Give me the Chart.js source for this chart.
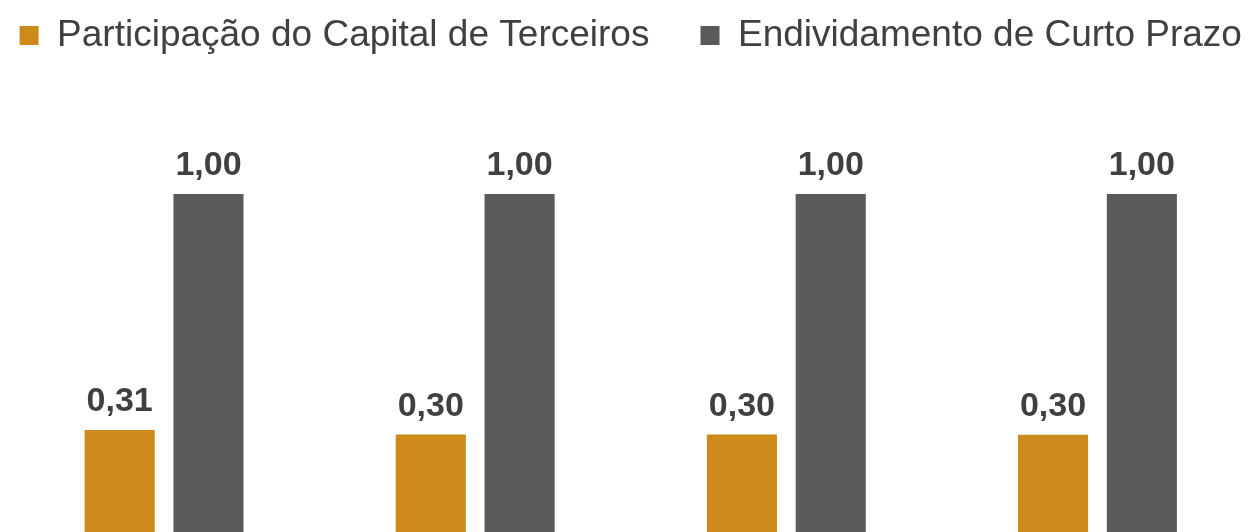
<!DOCTYPE html>
<html>
<head>
<meta charset="utf-8">
<script src="https://cdn.jsdelivr.net/npm/chart.js@4.4.0/dist/chart.umd.min.js"></script>
<style>
  html, body { margin: 0; padding: 0; background: #fff; overflow: hidden; }
  #wrap { width: 1249px; height: 532px; overflow: hidden; }
</style>
</head>
<body>
<div id="wrap"><canvas id="barChart" width="1253" height="532"></canvas></div>
<script>
///////////////////////////////// DONNEES

const categorias = ["2019", "2020", "2021", "2022"];
const participacaoCapital = [0.31, 0.297, 0.297, 0.296];
const endividamentoCurto = [1.00, 1.00, 1.00, 1.00];
// trailing spaces keep the gap between the two legend items
const nomesSeries = ["Participação do Capital de Terceiros    ", "Endividamento de Curto Prazo"];

const corLaranja = "#CC8A1A";
const corCinza = "#5A5A5A";
const corTexto = "#404040";

///////////////////////////////// ETIQUETAS SOBRE AS BARRAS

const etiquetas = {
    id: 'etiquetas',
    afterDatasetsDraw(chart) {
        const ctx = chart.ctx;
        ctx.save();
        ctx.font = "bold 34px 'Liberation Sans', Arial, sans-serif";
        ctx.fillStyle = corTexto;
        ctx.textAlign = 'center';
        ctx.textBaseline = 'alphabetic';
        chart.data.datasets.forEach((ds, i) => {
            chart.getDatasetMeta(i).data.forEach((bar, j) => {
                const txt = ds.data[j].toFixed(2).replace('.', ',');
                ctx.fillText(txt, bar.x, bar.y - 19);
            });
        });
        ctx.restore();
    }
};

///////////////////////////////// GRAFICO

let chart = document.getElementById("barChart");
let barChart = new Chart(chart, {
    type: 'bar',
    data: {
        labels: categorias,
        datasets: [
            {
                label: nomesSeries[0],
                backgroundColor: corLaranja,
                borderWidth: 0,
                data: participacaoCapital,
            },
            {
                label: nomesSeries[1],
                backgroundColor: corCinza,
                borderWidth: 0,
                data: endividamentoCurto,
            },
        ]
    },
    options: {
        responsive: false,
        animation: false,
        categoryPercentage: 0.571,
        barPercentage: 0.789,
        layout: {
            padding: { left: 8.5, right: 0, top: 7, bottom: 0 }
        },
        scales: {
            x: { display: false },
            y: { display: false, min: 0.012, max: 1.380 }
        },
        plugins: {
            tooltip: { enabled: false },
            legend: {
                display: true,
                position: 'top',
                labels: {
                    boxWidth: 19,
                    boxHeight: 19,
                    padding: 10,
                    color: corTexto,
                    font: { family: "'Liberation Sans', Arial, sans-serif", size: 37 }
                }
            }
        }
    },
    plugins: [etiquetas]
});
</script>
</body>
</html>
